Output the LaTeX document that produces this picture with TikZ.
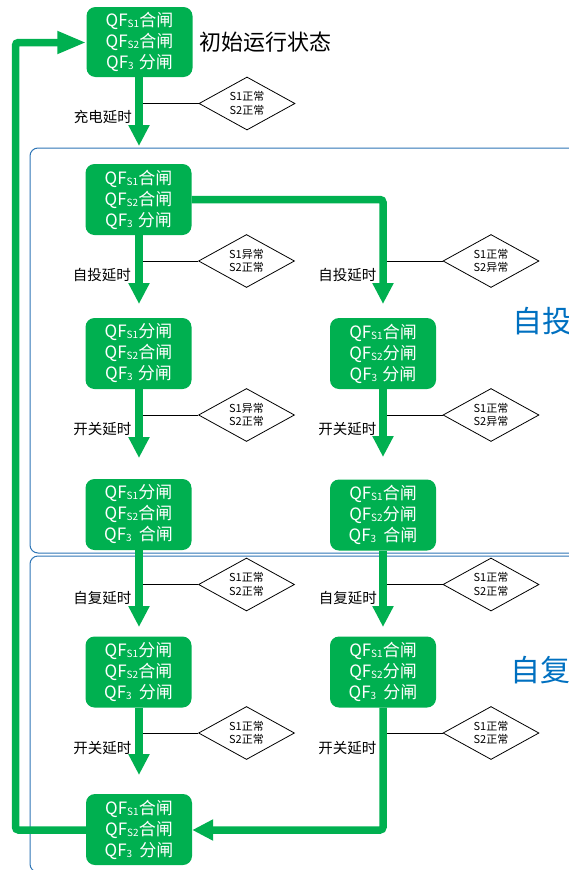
\documentclass[tikz,border=0pt]{standalone}
\usepackage{fontspec}
\setmainfont{Noto Sans CJK SC}
\usetikzlibrary{arrows.meta,shapes.geometric}
\definecolor{gr}{HTML}{00B050}
\definecolor{bl}{HTML}{2E75B6}
\definecolor{bt}{HTML}{0070C0}
\newcommand{\sbs}[1]{\raisebox{-1pt}{\fontsize{10}{10}\selectfont #1}}
\begin{document}
\begin{tikzpicture}[x=1pt,y=-1pt,
  qfbox/.style={fill=gr, rounded corners=9pt, minimum width=106pt, minimum height=71pt, inner sep=0pt, text=white, align=center, font=\fontsize{17}{21}\selectfont},
  dia/.style={diamond, draw=black, line width=0.8pt, fill=white, minimum width=96pt, minimum height=53pt, inner sep=0pt, aspect=1.8, align=center, font=\fontsize{11}{13.5}\selectfont},
  lbl/.style={anchor=east, inner sep=0pt, font=\fontsize{14.5}{17}\selectfont},
  garrow/.style={draw=gr, line width=7.5pt, rounded corners=3pt, -{Triangle[width=20pt,length=21pt]}},
  thin/.style={draw=black, line width=1pt},
  frame/.style={draw=bl, line width=1pt, rounded corners=8pt}]
\useasboundingbox (0,0) rectangle (569,870);
% frames
\begin{scope}
\clip (0,0) rectangle (569,870);
\draw[frame] (30,148) rectangle (600,553);
\draw[frame] (30,556) rectangle (600,872);
\end{scope}
\node[anchor=west, inner sep=0pt, text=bt, font=\fontsize{30}{30}\selectfont] (zt) at (512,321) {自投};
\node[anchor=west, inner sep=0pt, text=bt, font=\fontsize{30}{30}\selectfont] (zf) at (510,670) {自复};

% boxes
\node[qfbox, minimum height=70pt] (b0) at (139.5,42) {QF\sbs{S1}合闸\\QF\sbs{S2}合闸\\QF\sbs{3}\hspace{5pt}分闸};
\node[qfbox] (b1) at (138.5,199.5) {QF\sbs{S1}合闸\\QF\sbs{S2}合闸\\QF\sbs{3}\hspace{5pt}分闸};
\node[qfbox] (l2) at (138.5,353.5) {QF\sbs{S1}分闸\\QF\sbs{S2}合闸\\QF\sbs{3}\hspace{5pt}分闸};
\node[qfbox] (r2) at (383,353.5) {QF\sbs{S1}合闸\\QF\sbs{S2}分闸\\QF\sbs{3}\hspace{5pt}分闸};
\node[qfbox] (l3) at (138.5,514.5) {QF\sbs{S1}分闸\\QF\sbs{S2}合闸\\QF\sbs{3}\hspace{7pt}合闸};
\node[qfbox] (r3) at (383,515) {QF\sbs{S1}合闸\\QF\sbs{S2}分闸\\QF\sbs{3}\hspace{7pt}合闸};
\node[qfbox] (l4) at (138.5,672) {QF\sbs{S1}分闸\\QF\sbs{S2}合闸\\QF\sbs{3}\hspace{7pt}分闸};
\node[qfbox] (r4) at (383,672) {QF\sbs{S1}合闸\\QF\sbs{S2}分闸\\QF\sbs{3}\hspace{7pt}分闸};
\node[qfbox] (bt) at (139,829.5) {QF\sbs{S1}合闸\\QF\sbs{S2}合闸\\QF\sbs{3}\hspace{7pt}分闸};

\node[anchor=west, inner sep=0pt, font=\fontsize{22}{22}\selectfont] (init) at (199,42) {初始运行状态};

% diamonds
\node[dia] (d0) at (247,103.5) {S1正常\\S2正常};
\node[dia] (d1l) at (246.5,261) {S1异常\\S2正常};
\node[dia] (d1r) at (491,261) {S1正常\\S2异常};
\node[dia] (d2l) at (246.5,415) {S1异常\\S2正常};
\node[dia] (d2r) at (491,415) {S1正常\\S2异常};
\node[dia] (d3l) at (246.5,584.5) {S1正常\\S2正常};
\node[dia] (d3r) at (491,584.5) {S1正常\\S2正常};
\node[dia] (d4l) at (246.5,733) {S1正常\\S2正常};
\node[dia] (d4r) at (491,733) {S1正常\\S2正常};

% connector coordinates on shafts
\coordinate (c0) at (139,103.5);
\coordinate (c1l) at (139,261);
\coordinate (c1r) at (383,261);
\coordinate (c2l) at (139,415);
\coordinate (c2r) at (383,415);
\coordinate (c3l) at (139,584.5);
\coordinate (c3r) at (383,584.5);
\coordinate (c4l) at (139,733);
\coordinate (c4r) at (383,733);
\draw[thin] (c0) -- (d0.west);
\draw[thin] (c1l) -- (d1l.west);
\draw[thin] (c1r) -- (d1r.west);
\draw[thin] (c2l) -- (d2l.west);
\draw[thin] (c2r) -- (d2r.west);
\draw[thin] (c3l) -- (d3l.west);
\draw[thin] (c3r) -- (d3r.west);
\draw[thin] (c4l) -- (d4l.west);
\draw[thin] (c4r) -- (d4r.west);

% labels
\node[lbl] (t0) at (132,117) {充电延时};
\node[lbl] (t1l) at (131,275) {自投延时};
\node[lbl] (t1r) at (376.5,275) {自投延时};
\node[lbl] (t2l) at (131.5,429) {开关延时};
\node[lbl] (t2r) at (376.5,429) {开关延时};
\node[lbl] (t3l) at (131.5,598) {自复延时};
\node[lbl] (t3r) at (377,598) {自复延时};
\node[lbl] (t4l) at (131.5,748) {开关延时};
\node[lbl] (t4r) at (376.5,748) {开关延时};

% arrow tips
\coordinate (e0) at (139,146);
\coordinate (e1l) at (139,304);
\coordinate (k1) at (383,199.5);
\coordinate (e1r) at (383,304);
\coordinate (e2l) at (139,458);
\coordinate (e2r) at (383,457);
\coordinate (e3l) at (139,627);
\coordinate (e3r) at (383,627);
\coordinate (e4l) at (139,775);
\coordinate (kb) at (383,830);
\coordinate (kl1) at (15.5,830);
\coordinate (kl2) at (15.5,42.5);

\draw[garrow] (b0.south -| e0) -- (e0);
\draw[garrow] (b1.south -| e1l) -- (e1l);
\draw[garrow] (b1.east) -- (k1) -- (e1r);
\draw[garrow] (l2.south -| e2l) -- (e2l);
\draw[garrow] (r2.south) -- (e2r);
\draw[garrow] (l3.south -| e3l) -- (e3l);
\draw[garrow] (r3.south) -- (e3r);
\draw[garrow] (l4.south -| e4l) -- (e4l);
\draw[garrow] (r4.south) -- (kb) -- (bt.east |- kb);
\draw[garrow, -{Triangle[width=21pt,length=29pt]}] (bt.west |- kl1) -- (kl1) -- (kl2) -- (b0.west |- kl2);
\end{tikzpicture}
\end{document}
